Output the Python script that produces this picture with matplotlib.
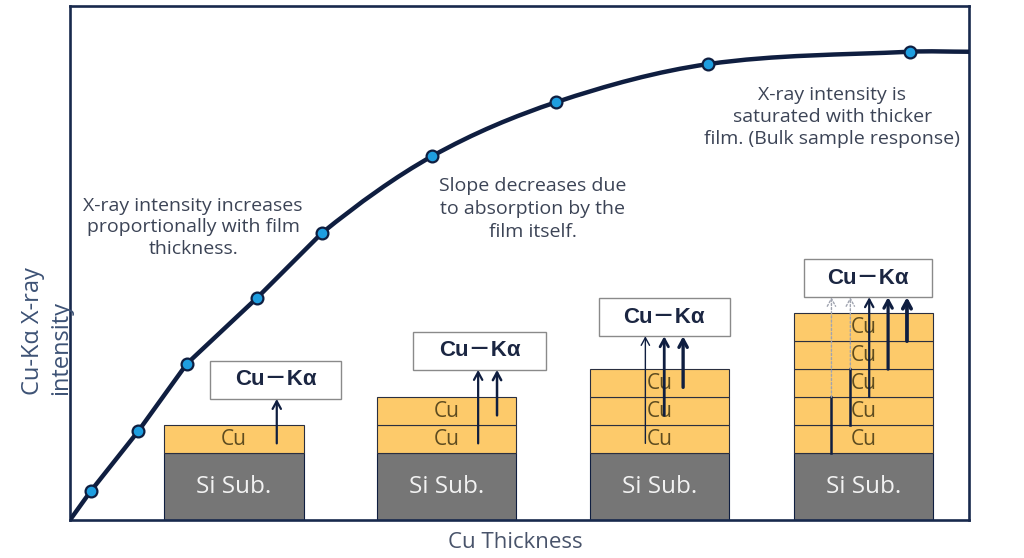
import numpy as np
import matplotlib
matplotlib.use('Agg')
import matplotlib.pyplot as plt
from matplotlib.patches import Rectangle, PathPatch
from matplotlib.path import Path

# Points (thickness vs Cu-Ka intensity, arbitrary units 0-100)
point_x = [2.3, 7.6, 13.0, 20.8, 28.0, 40.3, 54.1, 71.0, 93.4]
point_y = [5.6, 17.3, 30.4, 43.2, 55.8, 70.8, 81.3, 88.7, 91.1]
# where the curve meets the left and right axes
curve_start = (0.0, 0.0)
curve_end = (100.0, 91.1)
# the first points are joined by straight segments, the rest by a smooth curve
n_straight = 5

# Sketches of the samples: number of Cu layers on each substrate
cu_layers = [1, 2, 3, 5]
substrate_label = 'Si Sub.'
layer_label = 'Cu'
line_label = 'Cu\uff0dK\u03b1'

notes = ['X-ray intensity increases\nproportionally with film\nthickness.',
         'Slope decreases due\nto absorption by the\nfilm itself.',
         'X-ray intensity is\nsaturated with thicker\nfilm. (Bulk sample response)']
xlabel = 'Cu Thickness'
ylabel = 'Cu-K\u03b1 X-ray\nintensity'

navy = '#0f1e40'
dot_blue = '#1e9ee0'
note_col = '#3c4456'
cu_col = '#fdca6a'
si_col = '#767676'

plt.rcParams['font.family'] = ['Open Sans', 'DejaVu Sans']

fig = plt.figure(figsize=(10.24, 5.58), dpi=100)
ax = fig.add_axes([70 / 1024, 38 / 558, 899 / 1024, 514 / 558])
ax.set_xlim(0, 100)
ax.set_ylim(0, 100)
ax.set_xticks([])
ax.set_yticks([])
for s in ax.spines.values():
    s.set_color('#18294d')
    s.set_linewidth(1.9)

# main curve
xs = [curve_start[0]] + point_x + [curve_end[0]]
ys = [curve_start[1]] + point_y + [curve_end[1]]
n_pts = len(xs)
slopes = []
for i in range(n_pts):
    a, b = max(i - 1, 0), min(i + 1, n_pts - 1)
    slopes.append((ys[b] - ys[a]) / (xs[b] - xs[a]))
verts = [(xs[0], ys[0])]
codes = [Path.MOVETO]
for i in range(n_pts - 1):
    if i < n_straight:
        verts.append((xs[i + 1], ys[i + 1]))
        codes.append(Path.LINETO)
    else:
        h = (xs[i + 1] - xs[i]) / 3
        verts += [(xs[i] + h, ys[i] + slopes[i] * h),
                  (xs[i + 1] - h, ys[i + 1] - slopes[i + 1] * h),
                  (xs[i + 1], ys[i + 1])]
        codes += [Path.CURVE4] * 3
ax.add_patch(PathPatch(Path(verts, codes), fc='none', ec=navy, lw=3.2,
                       capstyle='round', joinstyle='round', zorder=5))
ax.plot(point_x, point_y, 'o', ms=8.5, mfc=dot_blue, mec=navy, mew=1.6, zorder=6)

# layout of the sample sketches (data units)
stack_left = [10.5, 34.1, 57.8, 80.5]
stack_w = 15.5
si_h = 13.0
layer_h = 5.45
box_left = [15.6, 38.2, 58.8, 81.6]
box_w = [14.6, 14.8, 14.6, 14.3]
box_gap = [5.1, 5.3, 6.4, 3.1]
box_h = 7.4
arrow_x0 = [12.5, 11.3, 6.2, 4.2]
arrow_dx = 2.1
arrow_lw = [[1.6], [1.6, 1.8], [1.0, 2.0, 2.4], [1.0, 1.0, 1.6, 2.3, 2.7]]
head = '->,head_length=0.55,head_width=0.3'

for i, n in enumerate(cu_layers):
    x0 = stack_left[i]
    ax.add_patch(Rectangle((x0, 0), stack_w, si_h, fc=si_col, ec=navy, lw=0.8, zorder=2))
    ax.text(x0 + stack_w / 2, si_h / 2, substrate_label, ha='center', va='center',
            fontsize=17.5, color='#f2f2f2', zorder=3)
    for k in range(n):
        yb = si_h + k * layer_h
        ax.add_patch(Rectangle((x0, yb), stack_w, layer_h, fc=cu_col, ec='#2a2f40', lw=0.8, zorder=2))
        ax.text(x0 + stack_w / 2, yb + layer_h / 2, layer_label, ha='center', va='center',
                fontsize=15, color='#5e4c20', zorder=3)
    top = si_h + n * layer_h
    by = top + box_gap[i]
    ax.add_patch(Rectangle((box_left[i], by), box_w[i], box_h, fc='white', ec='#8a8a8a', lw=1.0, zorder=3))
    ax.text(box_left[i] + box_w[i] / 2, by + box_h / 2, line_label, ha='center', va='center',
            fontsize=16, fontweight='bold', color='#1b2642', zorder=4,
            family=['Liberation Sans', 'Noto Sans CJK JP', 'DejaVu Sans'])
    for k in range(n):
        ax_x = x0 + arrow_x0[i] + k * arrow_dx
        yb = si_h + k * layer_h
        start = yb if i == 3 else yb + 0.35 * layer_h
        lw = arrow_lw[i][k]
        if i == 3 and k < 2:
            # absorbed: solid inside film, faint dotted above
            mid = yb + 2 * layer_h
            ax.plot([ax_x, ax_x], [start, mid], color=navy, lw=1.8, zorder=4)
            ax.annotate('', xy=(ax_x, by), xytext=(ax_x, mid),
                        arrowprops=dict(arrowstyle=head, color='#a0a4b0', lw=1.0,
                                        ls=(0, (1.5, 1.5)), shrinkA=0, shrinkB=0), zorder=4)
        else:
            ax.annotate('', xy=(ax_x, by), xytext=(ax_x, start),
                        arrowprops=dict(arrowstyle=head, color=navy, lw=lw,
                                        shrinkA=0, shrinkB=0), zorder=4)

# notes
ax.text(13.7, 57.0, notes[0], ha='center', va='center', fontsize=14,
        color=note_col, linespacing=1.25)
ax.text(51.5, 60.5, notes[1], ha='center', va='center', fontsize=14,
        color=note_col, linespacing=1.35)
ax.text(84.8, 78.4, notes[2], ha='center', va='center', fontsize=14,
        color=note_col, linespacing=1.3)

# axis labels
fig.text(515 / 1024, 1 - 543 / 558, xlabel, ha='center', va='center',
         fontsize=16, color='#48536a')
fig.text(47 / 1024, 1 - 395 / 558, ylabel, ha='center', va='bottom', rotation=90,
         multialignment='left', fontsize=17, color='#3d5275', linespacing=1.2)

fig.savefig('out.png', dpi=100)
